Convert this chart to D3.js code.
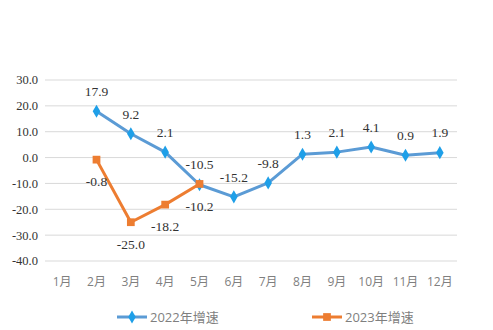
<!DOCTYPE html>
<html><head><meta charset="utf-8">
<script src="https://cdn.jsdelivr.net/npm/d3@7"></script>
<style>body{margin:0;background:#fff}svg{display:block}</style>
</head><body>
<svg id="c" width="493" height="330"></svg>
<script>
const months = ["1月","2月","3月","4月","5月","6月","7月","8月","9月","10月","11月","12月"];
const s2022 = [null,17.9,9.2,2.1,-10.5,-15.2,-9.8,1.3,2.1,4.1,0.9,1.9];
const s2023 = [null,-0.8,-25.0,-18.2,-10.2,null,null,null,null,null,null,null];
const yTicks = [30,20,10,0,-10,-20,-30,-40];
const seriesNames = ["2022年增速","2023年增速"];

const svg = d3.select("#c");
const x = d3.scaleBand().domain(months).range([45,457]);
const y = d3.scaleLinear().domain([-40,30]).range([261,80]);
const cx = m => x(m) + x.bandwidth()/2;
const fmt = v => v.toFixed(1);
const serif = "'Liberation Serif', 'Times New Roman', serif";
const sans = "'Open Sans', 'Noto Sans CJK SC', sans-serif";

svg.append("g").selectAll("line").data(yTicks).join("line")
  .attr("x1",45).attr("x2",457).attr("y1",d=>y(d)).attr("y2",d=>y(d))
  .attr("stroke","#d9d9d9").attr("stroke-width",1);
svg.append("g").selectAll("text").data(yTicks).join("text")
  .attr("x",38).attr("y",d=>y(d)).attr("dy","0.35em").attr("text-anchor","end")
  .style("font-family",serif).attr("font-size",12.5).attr("fill","#333")
  .text(d=>fmt(d));
svg.append("g").selectAll("text").data(months).join("text")
  .attr("x",d=>cx(d)).attr("y",282).attr("dy","0.35em").attr("text-anchor","middle")
  .style("font-family",sans).attr("font-size",12).attr("fill","#7f7f7f")
  .text(d=>d);

const blue="#5B9BD5", blueM="#1E9FE8", orange="#ED7D31";
function series(vals,color,mcolor,shape,labelOff){
  const pts = vals.map((v,i)=>({m:months[i],v})).filter(d=>d.v!==null);
  svg.append("path").datum(pts)
    .attr("d",d3.line().x(d=>cx(d.m)).y(d=>y(d.v)))
    .attr("fill","none").attr("stroke",color).attr("stroke-width",3).attr("stroke-linejoin","round");
  svg.append("g").selectAll("path").data(pts).join("path")
    .attr("transform",d=>`translate(${cx(d.m)},${y(d.v)})`)
    .attr("d",d3.symbol().type(shape).size(shape===d3.symbolDiamond?50:60))
    .attr("fill",mcolor);
  svg.append("g").selectAll("text").data(pts).join("text")
    .attr("x",d=>cx(d.m)).attr("y",d=>y(d.v)+labelOff).attr("dy","0.35em").attr("text-anchor","middle")
    .style("font-family",serif).attr("font-size",13.5).attr("fill","#333")
    .text(d=>fmt(d.v));
}
series(s2022,blue,blueM,d3.symbolDiamond,-20);
series(s2023,orange,orange,d3.symbolSquare,22);

const lg = [{x:117,c:blue,m:blueM,s:d3.symbolDiamond,t:seriesNames[0]},{x:312,c:orange,m:orange,s:d3.symbolSquare,t:seriesNames[1]}];
lg.forEach(l=>{
  svg.append("line").attr("x1",l.x).attr("x2",l.x+30).attr("y1",317).attr("y2",317).attr("stroke",l.c).attr("stroke-width",3);
  svg.append("path").attr("transform",`translate(${l.x+15},317)`).attr("d",d3.symbol().type(l.s).size(l.s===d3.symbolDiamond?50:60)).attr("fill",l.m);
  svg.append("text").attr("x",l.x+33).attr("y",317).attr("dy","0.35em")
    .style("font-family",sans).attr("font-size",13).attr("fill","#7f7f7f").text(l.t);
});
</script>
</body></html>
